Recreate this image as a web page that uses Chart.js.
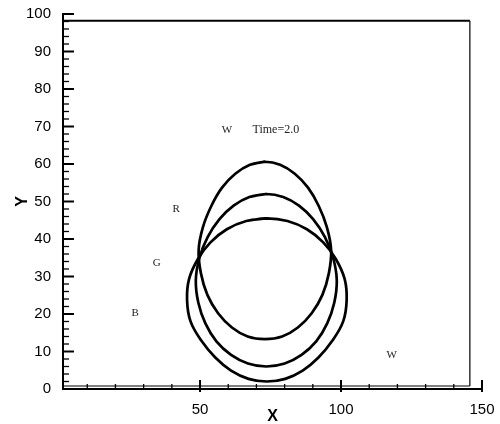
<!DOCTYPE html>
<html>
<head>
<meta charset="utf-8">
<title>Time=2.0</title>
<script src="https://cdn.jsdelivr.net/npm/chart.js@4/dist/chart.umd.min.js"></script>
<style>
  body { margin: 0; background: #fff; }
  #wrap { width: 500px; height: 424px; position: relative; }
</style>
</head>
<body>
<div id="wrap"><canvas id="plot"></canvas></div>
<script>
// interface curves (x, y in domain units)
const redX = [96.5, 95.0, 92.1, 88.3, 83.6, 78.4, 73.0, 67.7, 62.5, 57.8, 54.0, 51.0, 49.5,
              50.3, 52.6, 56.4, 61.3, 66.9, 73.0, 79.1, 84.7, 89.6, 93.4, 95.7];
const redY = [37.0, 43.1, 48.8, 53.7, 57.4, 59.8, 60.6, 59.8, 57.4, 53.7, 48.8, 43.1, 37.0,
              30.9, 25.1, 20.2, 16.4, 14.0, 13.3, 14.0, 16.4, 20.2, 25.1, 30.9];

const greenX = [98.5, 97.2, 94.3, 90.1, 85.1, 79.5, 73.5, 67.5, 61.9, 56.9, 52.7, 49.8, 48.5,
                49.4, 51.9, 55.8, 61.0, 67.0, 73.5, 80.0, 86.0, 91.2, 95.1, 97.6];
const greenY = [29.0, 35.0, 40.5, 45.3, 48.9, 51.2, 52.0, 51.2, 48.9, 45.3, 40.5, 35.0, 29.0,
                23.0, 17.5, 12.7, 9.1, 6.8, 6.0, 6.8, 9.1, 12.7, 17.5, 23.0];

const blueX = [102.0, 101.3, 98.2, 93.7, 87.9, 81.0, 73.7, 66.4, 59.5, 53.7, 49.2, 46.1, 45.4,
               46.6, 50.5, 55.4, 61.0, 67.2, 73.7, 80.2, 86.4, 92.0, 96.9, 100.8];
const blueY = [23.7, 29.3, 34.6, 39.1, 42.6, 44.8, 45.5, 44.8, 42.6, 39.1, 34.6, 29.3, 23.7,
               18.1, 12.85, 8.4, 4.9, 2.7, 2.0, 2.7, 4.9, 8.4, 12.85, 18.1];

// domain frame
const boxX = [1.4, 145.7];
const boxY = [0.8, 98.2];

// axes
const xTickValues = [10, 20, 30, 40, 50, 60, 70, 80, 90, 100, 110, 120, 130, 140, 150];
const xLabelled = [50, 100, 150];
const yTickValues = [0, 2, 4, 6, 8, 10, 12, 14, 16, 18, 20, 22, 24, 26, 28, 30, 32, 34, 36, 38, 40,
                     42, 44, 46, 48, 50, 52, 54, 56, 58, 60, 62, 64, 66, 68, 70, 72, 74, 76, 78, 80,
                     82, 84, 86, 88, 90, 92, 94, 96, 98, 100];
const yLabelled = [0, 10, 20, 30, 40, 50, 60, 70, 80, 90, 100];

// region labels
const noteText = ['W', 'Time=2.0', 'R', 'G', 'B', 'W'];
const noteX = [59.5, 76.9, 41.5, 34.6, 27.0, 118.0];
const noteY = [69.0, 69.0, 48.0, 33.5, 20.2, 9.1];

// closed loop, seam put at the top point (index 6)
function toPoints(xs, ys) {
  const pts = xs.map((x, i) => ({ x: x, y: ys[i] }));
  const loop = pts.slice(6).concat(pts.slice(0, 6));
  return loop.concat([loop[0], loop[1]]);
}

function curve(xs, ys) {
  return {
    data: toPoints(xs, ys),
    showLine: true,
    borderColor: '#000',
    borderWidth: 2.7,
    pointRadius: 0,
    tension: 0.4,
    fill: false
  };
}

function frameLine(pts, w) {
  return { data: pts, showLine: true, borderColor: '#000', borderWidth: w, pointRadius: 0, tension: 0 };
}

const inwardTicks = {
  id: 'inwardTicks',
  afterDraw(chart) {
    const { ctx, chartArea, scales } = chart;
    ctx.save();
    ctx.strokeStyle = '#000';
    xTickValues.forEach(v => {
      const px = scales.x.getPixelForValue(v);
      const major = xLabelled.includes(v);
      ctx.lineWidth = major ? 2 : 1.3;
      ctx.beginPath();
      ctx.moveTo(px, chartArea.bottom + (major ? 3 : 0));
      ctx.lineTo(px, chartArea.bottom - (major ? 9 : 5));
      ctx.stroke();
    });
    yTickValues.forEach(v => {
      if (v === 0) return;
      const py = scales.y.getPixelForValue(v);
      const major = yLabelled.includes(v);
      ctx.lineWidth = major ? 2 : 1.3;
      ctx.beginPath();
      ctx.moveTo(chartArea.left, py);
      ctx.lineTo(chartArea.left + (major ? 11 : 6), py);
      ctx.stroke();
    });
    ctx.restore();
  }
};

const regionNotes = {
  id: 'regionNotes',
  afterDatasetsDraw(chart) {
    const { ctx, scales } = chart;
    ctx.save();
    ctx.fillStyle = '#222';
    ctx.textAlign = 'center';
    ctx.textBaseline = 'middle';
    noteText.forEach((t, i) => {
      ctx.font = (t.length > 1 ? '12px' : '11px') + ' "Liberation Serif", "Times New Roman", serif';
      ctx.fillText(t, scales.x.getPixelForValue(noteX[i]), scales.y.getPixelForValue(noteY[i]));
    });
    ctx.restore();
  }
};

Chart.defaults.font.family = '"Liberation Sans", Arial, Helvetica, sans-serif';
Chart.defaults.color = '#000';

new Chart(document.getElementById('plot'), {
  type: 'scatter',
  data: {
    datasets: [
      curve(redX, redY),
      curve(greenX, greenY),
      curve(blueX, blueY),
      frameLine([{ x: boxX[0], y: boxY[1] }, { x: boxX[1], y: boxY[1] }], 2.2),
      frameLine([{ x: boxX[1], y: boxY[1] }, { x: boxX[1], y: boxY[0] }], 1.2),
      frameLine([{ x: boxX[0], y: boxY[0] }, { x: boxX[1], y: boxY[0] }], 1.2)
    ]
  },
  options: {
    responsive: true,
    maintainAspectRatio: false,
    animation: false,
    layout: { padding: { top: 14, right: 18, left: 0, bottom: 0 } },
    plugins: { legend: { display: false }, tooltip: { enabled: false } },
    scales: {
      x: {
        type: 'linear',
        min: 1.4,
        max: 150,
        afterBuildTicks: s => { s.ticks = xTickValues.map(v => ({ value: v })); },
        afterFit: s => { s.height = 35; },
        grid: { display: false },
        border: { display: true, color: '#000', width: 2 },
        ticks: {
          autoSkip: false,
          maxRotation: 0,
          padding: 4,
          font: { size: 15 },
          callback: v => xLabelled.includes(v) ? String(v) : ''
        },
        title: { display: true, text: 'X', font: { size: 16, weight: 'bold', lineHeight: 0.9 }, padding: 0 }
      },
      y: {
        type: 'linear',
        min: 0,
        max: 100,
        afterBuildTicks: s => { s.ticks = yTickValues.map(v => ({ value: v })); },
        afterFit: s => { s.width = 63; },
        grid: { display: false },
        border: { display: true, color: '#000', width: 2 },
        ticks: {
          autoSkip: false,
          padding: 4,
          font: { size: 15 },
          callback: v => yLabelled.includes(v) ? String(v) : ''
        },
        title: { display: true, text: 'Y', font: { size: 16, weight: 'bold', lineHeight: 0.9 }, padding: { top: 15 } }
      }
    }
  },
  plugins: [inwardTicks, regionNotes]
});
</script>
</body>
</html>
